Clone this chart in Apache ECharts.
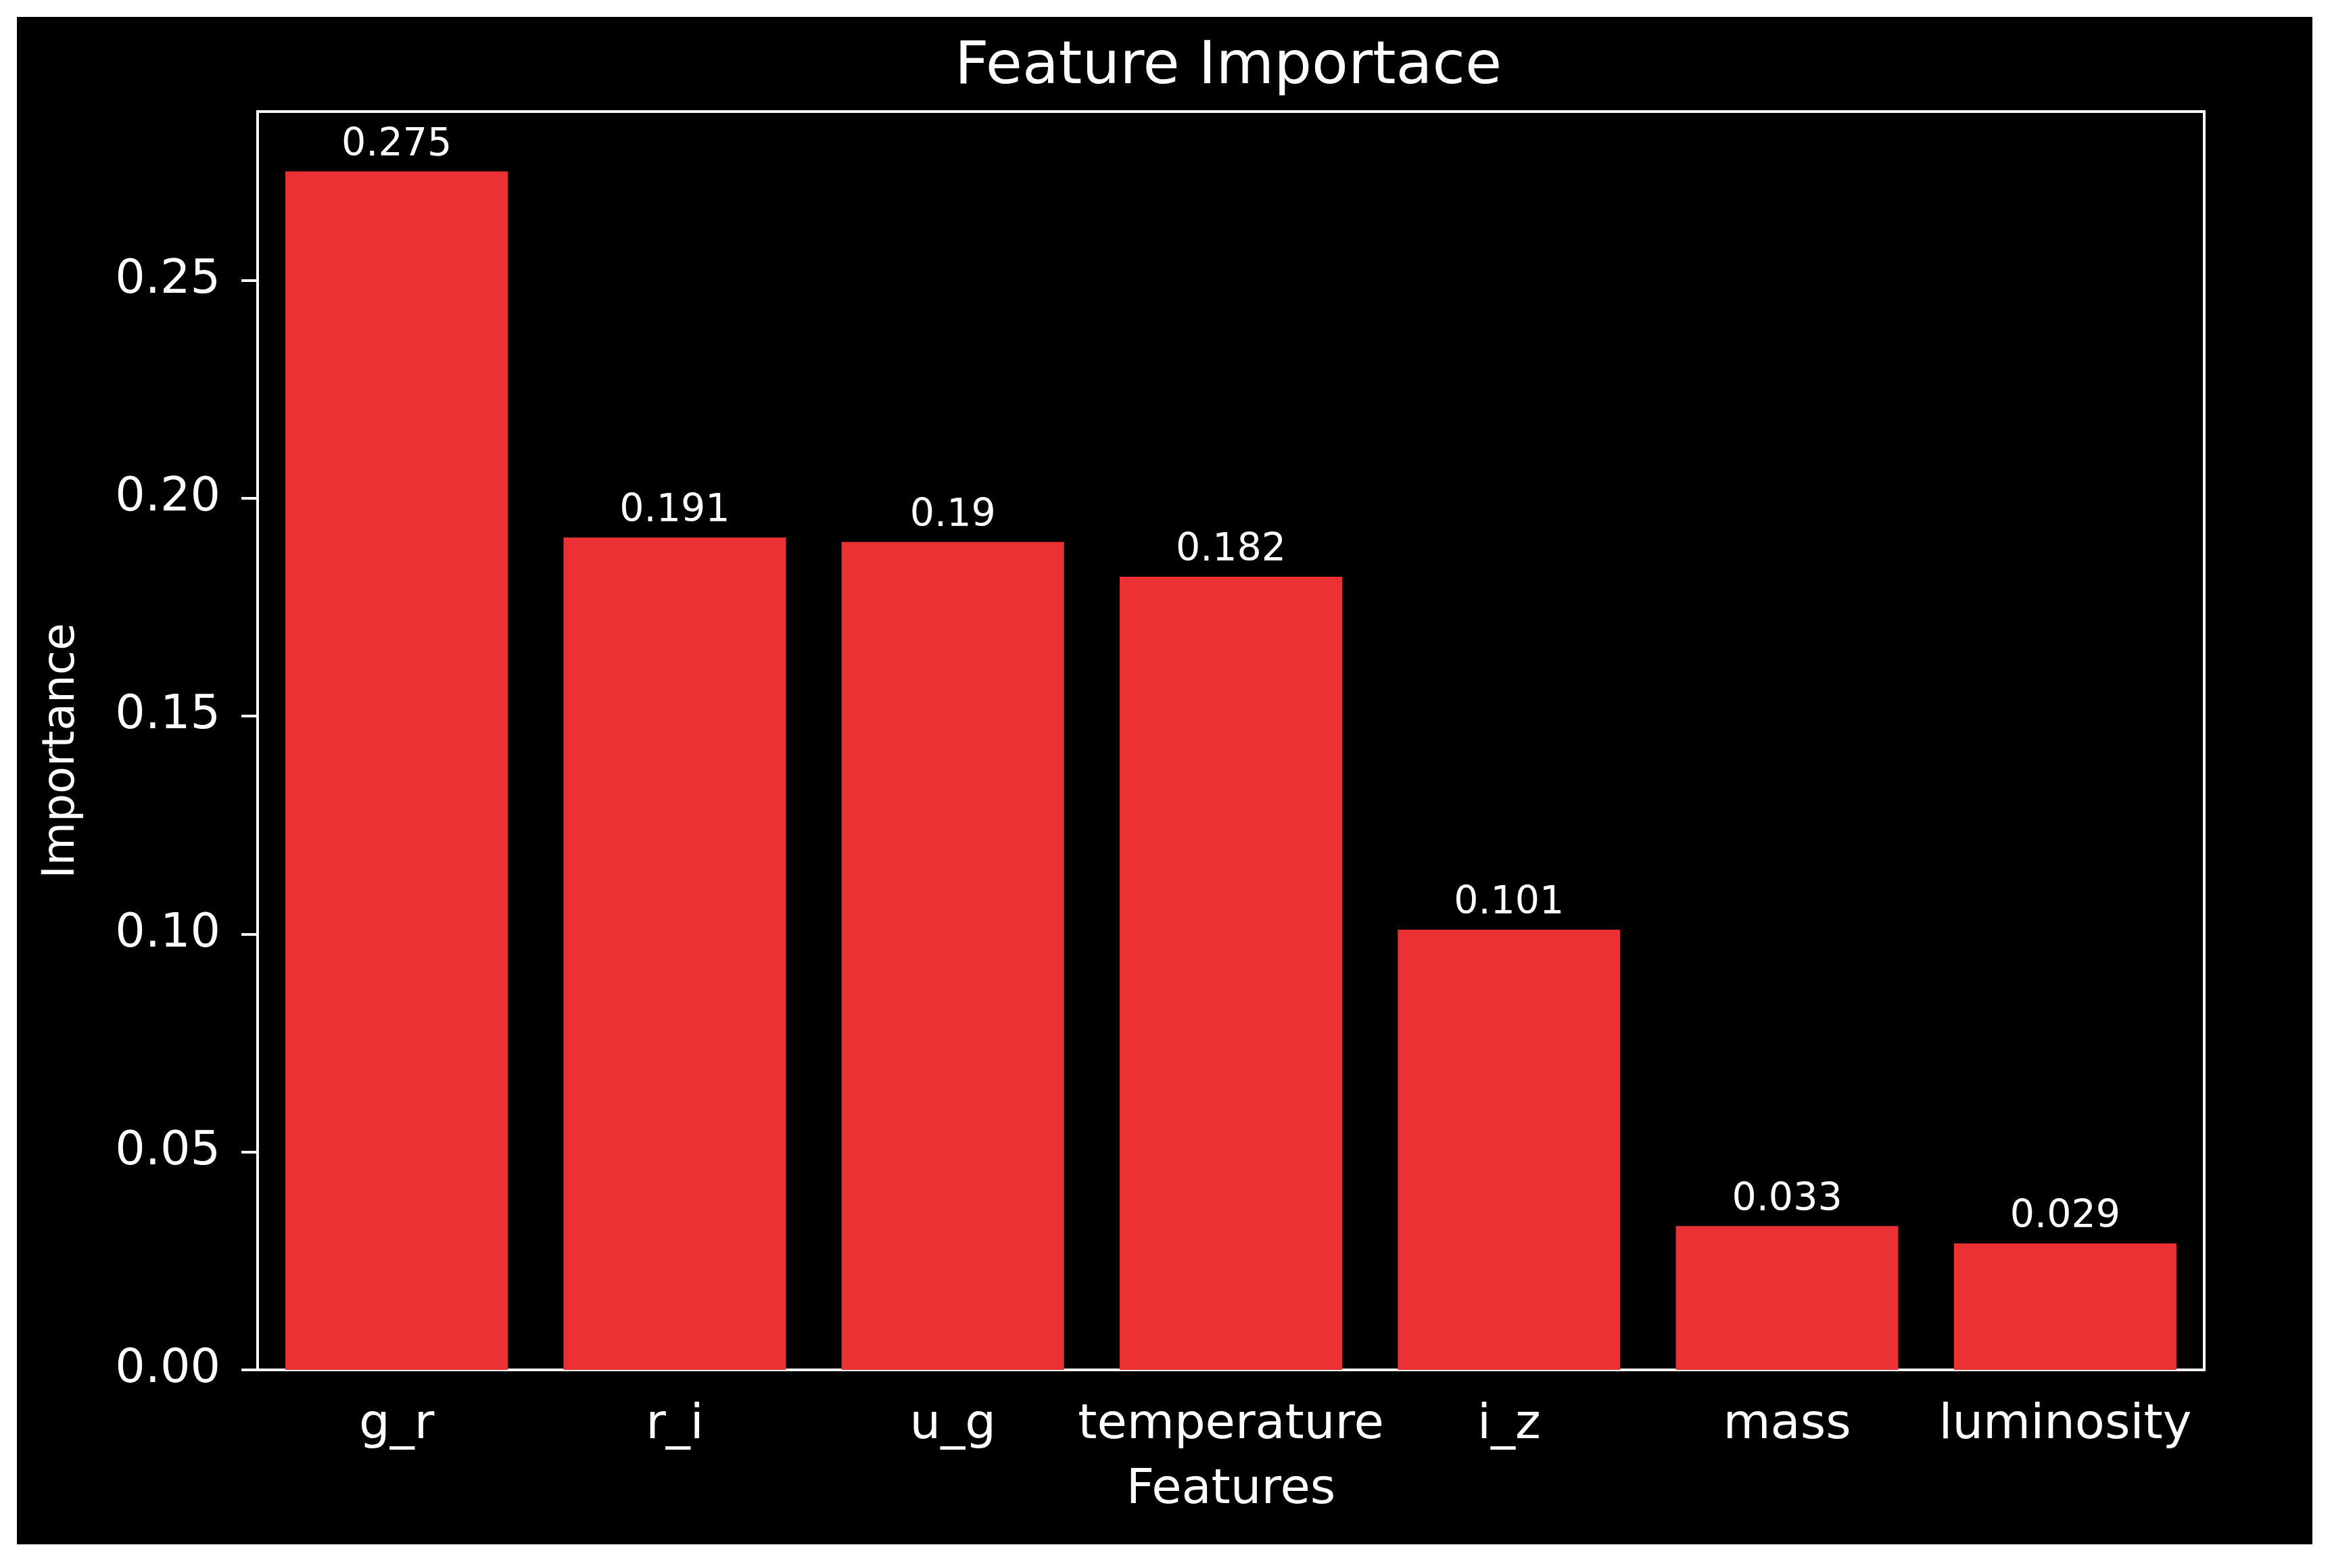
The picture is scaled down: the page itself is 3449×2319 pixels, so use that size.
<!DOCTYPE html>
<html>
<head>
<meta charset="utf-8">
<script src="https://cdn.jsdelivr.net/npm/echarts@6/dist/echarts.min.js"></script>
<style>
  html, body { margin: 0; padding: 0; background: #fff; }
  #chart { width: 3449px; height: 2319px; }
</style>
</head>
<body>
<div id="chart"></div>
<script>
var features = ['g_r', 'r_i', 'u_g', 'temperature', 'i_z', 'mass', 'luminosity'];
var importance = [0.275, 0.191, 0.19, 0.182, 0.101, 0.033, 0.029];
var yTicks = [0, 0.05, 0.10, 0.15, 0.20, 0.25];
var yMax = 0.28875;

var font = 'DejaVu Sans';
var dom = document.getElementById('chart');
var myChart = echarts.init(dom);

var option = {
    backgroundColor: '#fff',
    animation: false,
    graphic: [{
        type: 'rect',
        z: -100,
        silent: true,
        shape: { x: 25, y: 25, width: 3395, height: 2259 },
        style: { fill: '#000' }
    }],
    title: {
        text: 'Feature Importace',
        left: 1412,
        top: 56,
        padding: 0,
        textStyle: { color: '#fff', fontFamily: font, fontSize: 88, fontWeight: 'normal' }
    },
    grid: {
        left: 381,
        right: 189,
        top: 165,
        bottom: 293,
        show: true,
        borderColor: '#fff',
        borderWidth: 4,
        backgroundColor: 'transparent'
    },
    xAxis: {
        type: 'category',
        data: features,
        name: 'Features',
        nameLocation: 'middle',
        nameGap: 142,
        nameTextStyle: { color: '#fff', fontFamily: font, fontSize: 72 },
        axisLine: { lineStyle: { color: '#fff', width: 4 } },
        axisTick: { alignWithLabel: true, length: 24, lineStyle: { color: '#fff', width: 4 } },
        axisLabel: { color: '#fff', fontFamily: font, fontSize: 72, margin: 46, interval: 0 },
        splitLine: { show: false }
    },
    yAxis: {
        type: 'value',
        min: 0,
        max: yMax,
        interval: 0.05,
        name: 'Importance',
        nameLocation: 'middle',
        nameRotate: 90,
        nameGap: 256,
        nameTextStyle: { color: '#fff', fontFamily: font, fontSize: 66, padding: [0, 30, 0, 0] },
        axisLine: { show: true, lineStyle: { color: '#fff', width: 4 } },
        axisTick: { show: true, length: 24, lineStyle: { color: '#fff', width: 4 }, customValues: yTicks },
        axisLabel: {
            color: '#fff', fontFamily: font, fontSize: 70, margin: 55,
            customValues: yTicks,
            formatter: function (v) { return v.toFixed(2); }
        },
        splitLine: { show: false }
    },
    series: [{
        type: 'bar',
        data: importance,
        barWidth: '80%',
        itemStyle: { color: '#ec3134' },
        label: {
            show: true,
            position: 'top',
            distance: 10,
            color: '#fff',
            fontFamily: font,
            fontSize: 57
        }
    }]
};

myChart.setOption(option);

window.onresize = function () {
    myChart.resize();
};
</script>
</body>
</html>
